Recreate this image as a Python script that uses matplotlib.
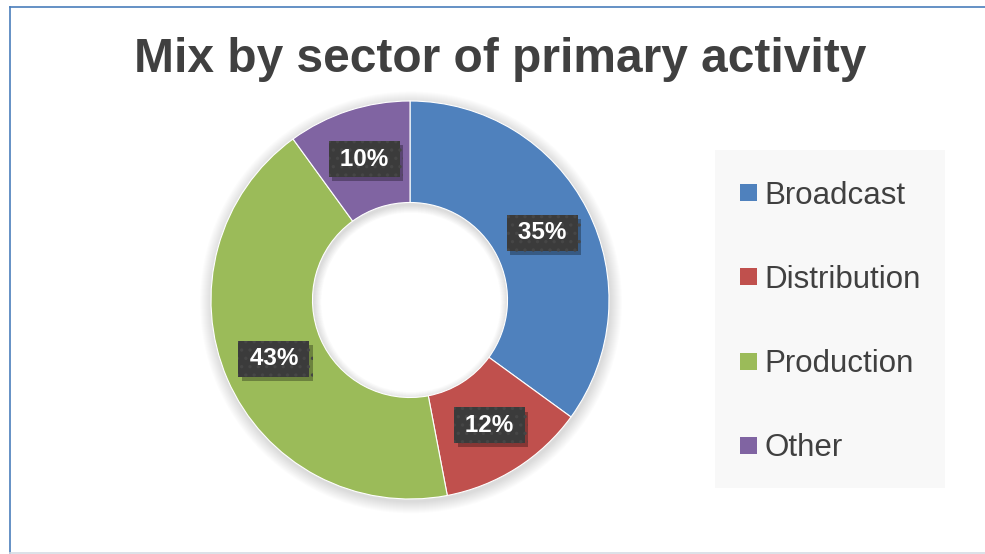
import matplotlib
matplotlib.use("Agg")
import matplotlib.pyplot as plt
import matplotlib.patheffects as pe
from matplotlib.patches import Rectangle, Wedge
from matplotlib.lines import Line2D
import numpy as np

categories = ["Broadcast", "Distribution", "Production", "Other"]
values = [35, 12, 43, 10]
colors = ["#4F81BD", "#C0504D", "#9BBB59", "#8064A2"]
title = "Mix by sector of primary activity"

W, H = 985, 554
fig = plt.figure(figsize=(W / 100, H / 100), dpi=100)
fig.patch.set_facecolor("white")
plt.rcParams["font.family"] = ["Liberation Sans", "DejaVu Sans"]
plt.rcParams["hatch.linewidth"] = 1.2

# frame (left + top blue, bottom light)
fig.add_artist(Line2D([9.5 / W, 9.5 / W], [1 - 553 / H, 1 - 6.5 / H], transform=fig.transFigure,
                      color="#4A7EBB", linewidth=1.2))
fig.add_artist(Line2D([9.5 / W, 1.0], [1 - 6.5 / H, 1 - 6.5 / H], transform=fig.transFigure,
                      color="#4A7EBB", linewidth=1.2))
fig.add_artist(Line2D([9.5 / W, 1.0], [1 - 552.5 / H, 1 - 552.5 / H], transform=fig.transFigure,
                      color="#D5DCE4", linewidth=1.2))

# title
fig.text(500 / W, 1 - 72 / H, title, ha="center", va="baseline", fontsize=34.5,
         fontweight="bold", color="#404040")

# donut axes
cx, cy, R = 410, 300, 199
pad_px = 20
Ra = R + pad_px
ax = fig.add_axes([(cx - Ra) / W, (H - cy - Ra) / H, 2 * Ra / W, 2 * Ra / H])
lim = Ra / R
ax.set_aspect("equal")
ax.axis("off")

width = 0.51
# soft shadow around the ring
for i in range(12):
    k = (12 - i) / 12
    r_out = 1 + 0.06 * k
    r_in = (1 - width) - 0.04 * k
    ax.add_patch(Wedge((0.005, -0.012), r_out, 0, 360, width=r_out - r_in,
                       facecolor="black", alpha=0.010, linewidth=0))

wedges, _ = ax.pie(values, colors=colors, startangle=90, counterclock=False, radius=1,
                   wedgeprops=dict(width=width, edgecolor="white", linewidth=0.8))
ax.set_xlim(-lim, lim)
ax.set_ylim(-lim, lim)

total = sum(values)
r_lab = 1 - width / 2
for w, v in zip(wedges, values):
    ang = np.deg2rad((w.theta1 + w.theta2) / 2)
    x, y = r_lab * np.cos(ang), r_lab * np.sin(ang)
    t = ax.text(x, y, f"\u2009{round(100 * v / total)}%\u2009", ha="center", va="center",
                fontsize=17.5, fontweight="bold", color="white",
                bbox=dict(boxstyle="square,pad=0.26", facecolor="#3B3B3B",
                          edgecolor="#464646", linewidth=0, hatch=".."))
    t.get_bbox_patch().set_path_effects([
        pe.SimplePatchShadow(offset=(2.5, -3), shadow_rgbFace="black", alpha=0.3),
        pe.Normal()])

# legend
lx0, ly0, lx1, ly1 = 715, 150, 945, 488
fig.add_artist(Rectangle((lx0 / W, 1 - ly1 / H), (lx1 - lx0) / W, (ly1 - ly0) / H,
                         transform=fig.transFigure, facecolor="#F8F8F8", edgecolor="none"))
rows_y = [192, 276, 361, 445]
for lab, col, ry in zip(categories, colors, rows_y):
    s = 17
    fig.add_artist(Rectangle((740 / W, 1 - (ry + s / 2) / H), s / W, s / H,
                             transform=fig.transFigure, facecolor=col, edgecolor="none"))
    fig.text(764 / W, 1 - ry / H, lab, ha="left", va="center_baseline", fontsize=22.5,
             color="#404040")

fig.savefig("out.png", dpi=100)
